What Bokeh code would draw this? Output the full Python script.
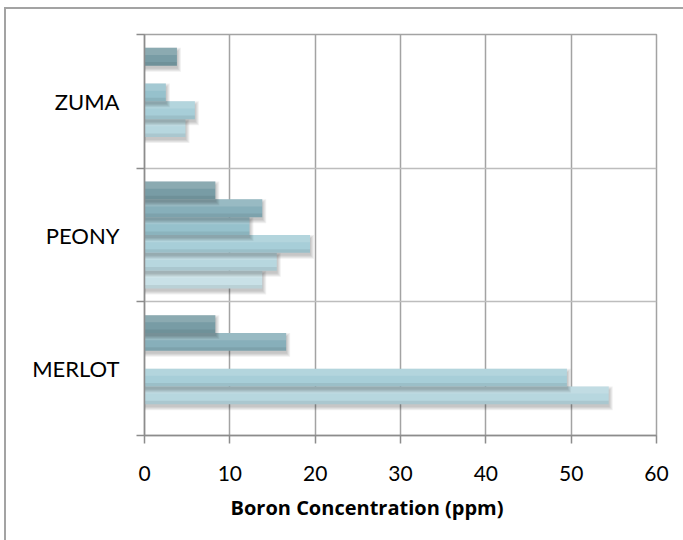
from bokeh.plotting import figure
from bokeh.models import Range1d, FixedTicker, ColumnDataSource, Title, InlineStyleSheet
from bokeh.embed import file_html
from bokeh.resources import INLINE

# Cultivars, bottom to top
categories = ["MERLOT", "PEONY", "ZUMA"]

# Boron concentration (ppm) per series, one value per cultivar (None = no measurement)
series_1 = [None, 13.8, None]
series_2 = [54.4, 15.5, 4.8]
series_3 = [49.5, 19.4, 5.9]
series_4 = [None, 12.3, 2.5]
series_5 = [16.6, 13.8, None]
series_6 = [8.3, 8.3, 3.8]
series = [series_1, series_2, series_3, series_4, series_5, series_6]

series_colors = ["#c9e1e7", "#b7d7df", "#a7ced8", "#96c1cc", "#87afba", "#789ca5"]

x_ticks = [0, 10, 20, 30, 40, 50, 60]
x_title = "Boron Concentration (ppm)"

FONT = "Lato"

p = figure(width=683, height=540, output_backend="svg", toolbar_location=None,
           x_range=Range1d(0, 60), y_range=Range1d(0, len(categories)),
           min_border_left=144, min_border_right=27, min_border_top=34,
           min_border_bottom=105)
p.background_fill_color = "white"
p.border_fill_color = "white"
p.outline_line_color = "#a3a3a3"
p.outline_line_width = 1.5

# chart-area border (left and top edges of the chart box)
p.stylesheets = [InlineStyleSheet(css="""
:host::after {
  content: "";
  position: absolute;
  left: 4px; top: 7px; width: 720px; height: 600px;
  border-left: 2px solid #a3a3a3;
  border-top: 2px solid #a3a3a3;
  pointer-events: none;
}
""")]

# slot geometry: six series per cultivar, 150% gap width
n = len(series)
bar_h = 1.0 / (n + 1.5)
px_y = len(categories) / 401.0
px_x = 60.0 / 512.0

for k, (vals, color) in enumerate(zip(series, series_colors), start=1):
    ys, rs = [], []
    for i, v in enumerate(vals):
        if v is None:
            continue
        ys.append(i + 0.5 + (k - (n + 1) / 2) * bar_h)
        rs.append(v)
    if not ys:
        continue
    # soft drop shadow below and to the right
    for j in range(4):
        sh = ColumnDataSource(dict(
            y=[y - 3 * px_y for y in ys],
            right=[r + (1.0 + j) * px_x for r in rs]))
        p.hbar(y="y", left=0, right="right", height=bar_h + 2 * j * px_y,
               source=sh, fill_color="black", fill_alpha=0.06, line_color=None)
    src = ColumnDataSource(dict(y=ys, right=rs))
    p.hbar(y="y", left=0, right="right", height=bar_h, source=src,
           fill_color=color, line_color=None)
    # light top half and darker lower edge for a rounded look
    top = ColumnDataSource(dict(y=[y + bar_h * 0.3 for y in ys], right=rs))
    p.hbar(y="y", left=0, right="right", height=bar_h * 0.4, source=top,
           fill_color="white", fill_alpha=0.14, line_color=None)
    bot = ColumnDataSource(dict(y=[y - bar_h * 0.4 for y in ys], right=rs))
    p.hbar(y="y", left=0, right="right", height=bar_h * 0.2, source=bot,
           fill_color="black", fill_alpha=0.07, line_color=None)

# x axis
p.xaxis.ticker = FixedTicker(ticks=x_ticks, minor_ticks=[])
p.xaxis.axis_line_color = "#8c8c8c"
p.xaxis.axis_line_width = 1.5
p.xaxis.major_tick_line_color = "#8c8c8c"
p.xaxis.major_tick_line_width = 1.5
p.xaxis.major_tick_out = 8
p.xaxis.major_tick_in = 0
p.xaxis.minor_tick_line_color = None
p.xaxis.major_label_standoff = 22
p.xaxis.major_label_text_font = FONT
p.xaxis.major_label_text_font_size = "21px"
p.xaxis.major_label_text_color = "black"

# y axis: labels at cultivar centres, tick marks at the band boundaries
centres = [i + 0.5 for i in range(len(categories))]
bounds = list(range(len(categories) + 1))
p.yaxis.ticker = FixedTicker(ticks=centres, minor_ticks=bounds)
p.yaxis.major_label_overrides = {c: name for c, name in zip(centres, categories)}
p.yaxis.major_tick_line_color = None
p.yaxis.major_tick_out = 0
p.yaxis.minor_tick_line_color = "#8c8c8c"
p.yaxis.minor_tick_line_width = 1.5
p.yaxis.minor_tick_out = 8
p.yaxis.minor_tick_in = 0
p.yaxis.axis_line_color = "#8c8c8c"
p.yaxis.axis_line_width = 1.5
p.yaxis.major_label_standoff = 17
p.yaxis.major_label_text_font = FONT
p.yaxis.major_label_text_font_size = "22px"
p.yaxis.major_label_text_color = "black"

# grids
p.xgrid.ticker = FixedTicker(ticks=x_ticks, minor_ticks=[])
p.xgrid.grid_line_color = "#a3a3a3"
p.xgrid.grid_line_width = 1.5
p.ygrid.ticker = FixedTicker(ticks=bounds, minor_ticks=[])
p.ygrid.grid_line_color = "#bdbdbd"
p.ygrid.grid_line_width = 1.5

p.add_layout(Title(text=x_title, align="left", offset=86, standoff=16,
                   text_font="Open Sans", text_font_size="20px",
                   text_font_style="bold", text_color="black"), "below")

open("out.html", "w").write(file_html(p, INLINE))
